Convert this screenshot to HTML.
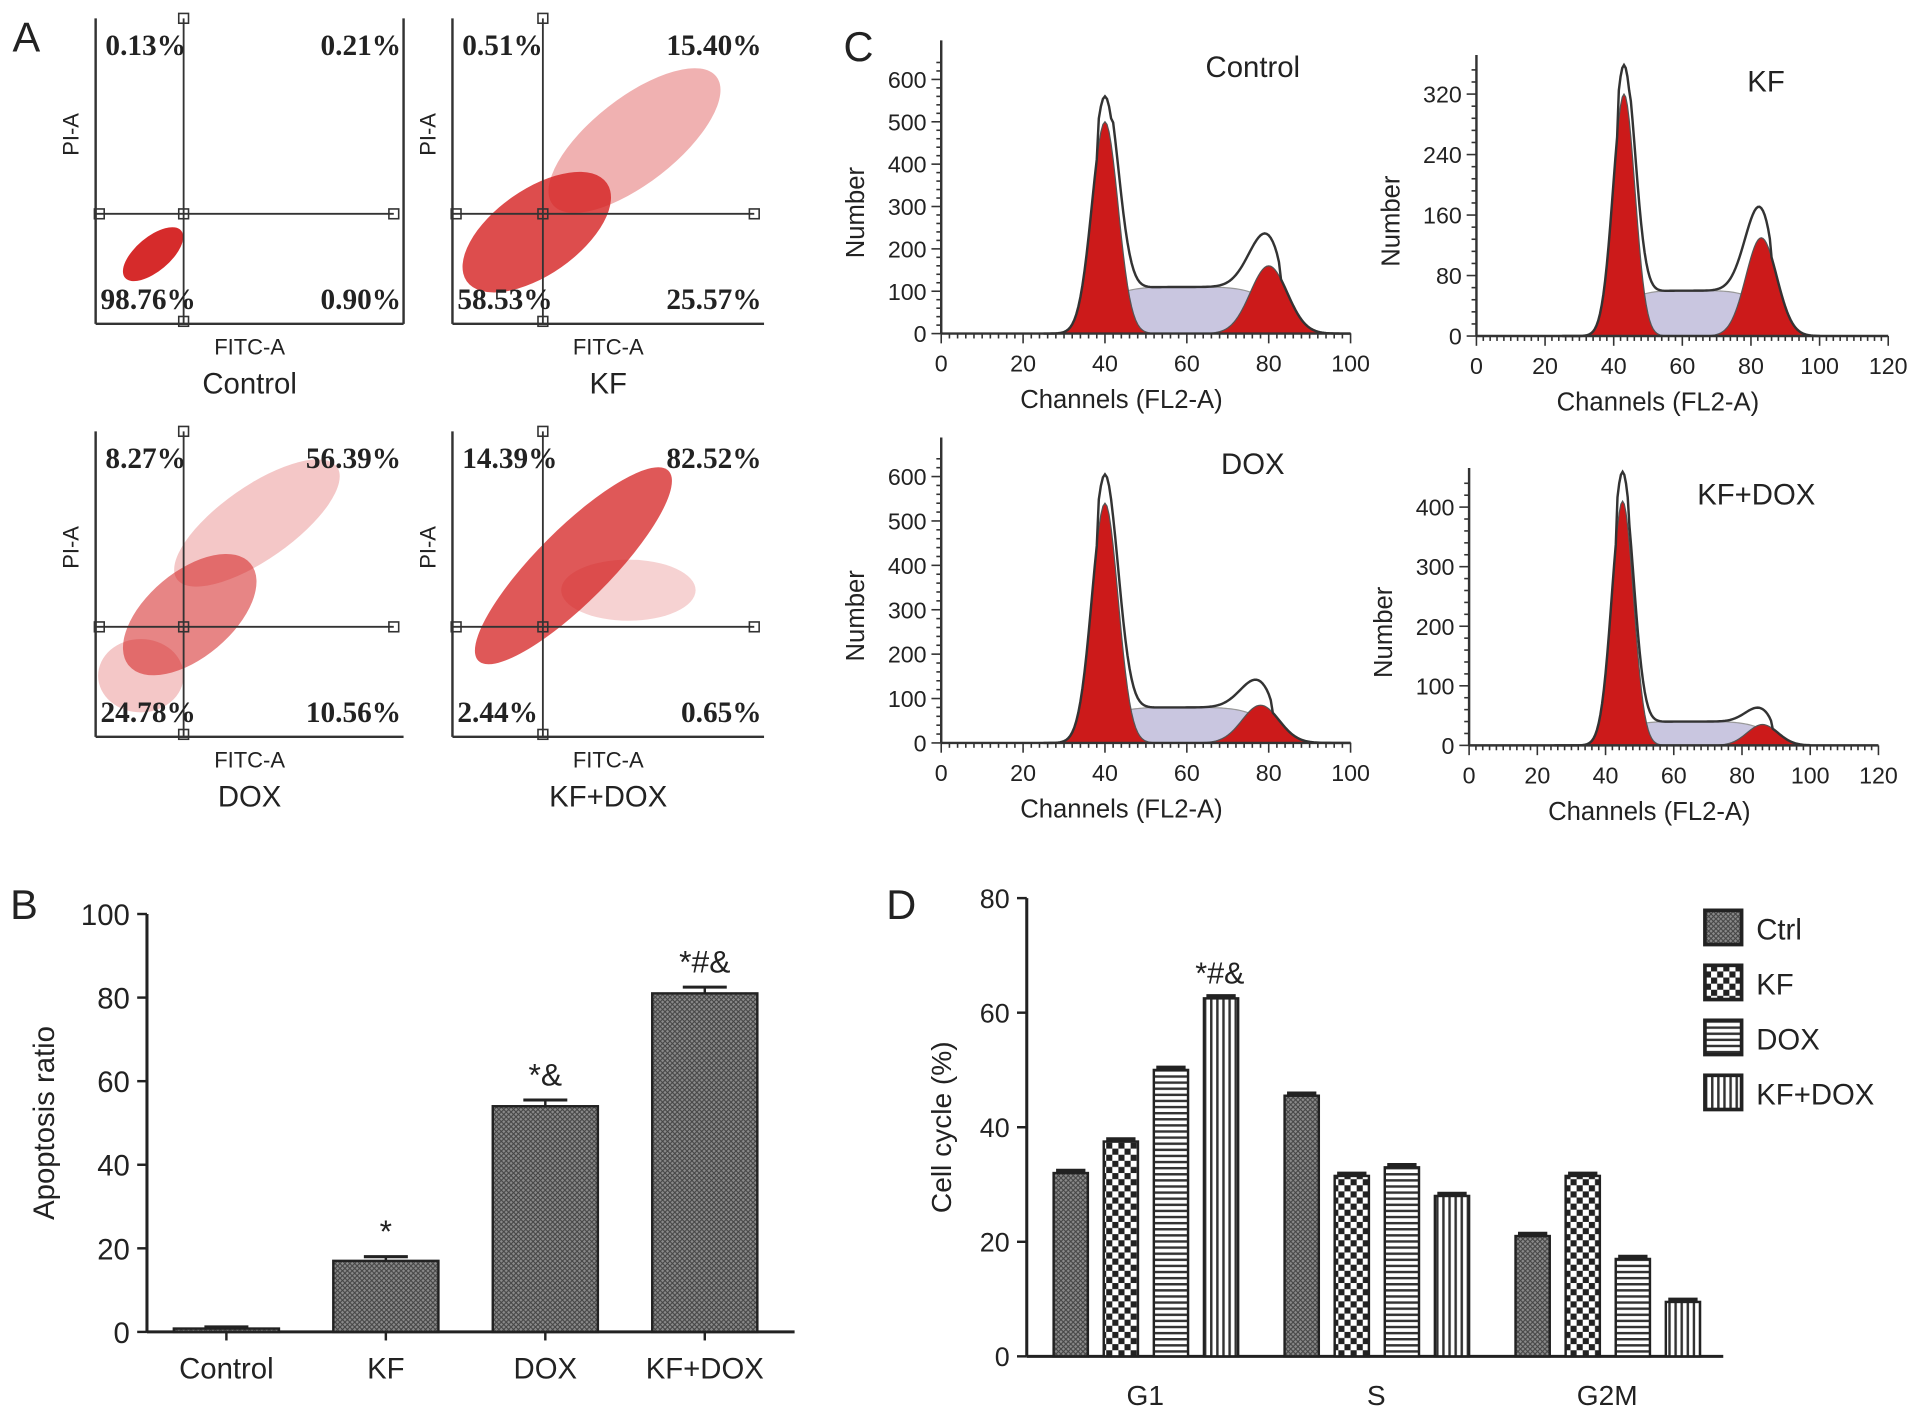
<!DOCTYPE html>
<html><head><meta charset="utf-8"><style>
html,body{margin:0;padding:0;background:#fff}
svg{display:block}
text{font-family:"Liberation Sans",sans-serif;fill:#222}
.pct{font-family:"Liberation Serif",serif;font-weight:bold;font-size:24px}
.tk{font-size:19px}
</style></head><body>
<svg id="fig" width="1913" height="1415" viewBox="0 0 1565 1158" xmlns="http://www.w3.org/2000/svg">
<defs>
<pattern id="pCtrl" width="4" height="4" patternUnits="userSpaceOnUse"><rect width="4" height="4" fill="#8a8a8a"/><path d="M0 0L4 4M4 0L0 4" stroke="#444" stroke-width="0.9"/></pattern>
<pattern id="pKF" width="10" height="10" patternUnits="userSpaceOnUse"><rect width="10" height="10" fill="#fff"/><rect width="5" height="5" fill="#222"/><rect x="5" y="5" width="5" height="5" fill="#222"/></pattern>
<pattern id="pDOX" width="6" height="5" patternUnits="userSpaceOnUse"><rect width="6" height="5" fill="#fff"/><rect y="0" width="6" height="2" fill="#333"/></pattern>
<pattern id="pKD" width="5" height="6" patternUnits="userSpaceOnUse"><rect width="5" height="6" fill="#fff"/><rect x="0" width="2" height="6" fill="#333"/></pattern>
</defs>
<g id="panelA"></g>
<g id="panelC"></g>
<g id="panelB"></g>
<g id="panelD"></g>
</svg>
<script>
const NS="http://www.w3.org/2000/svg";
// ---- data ----
const aNames=["Control","KF","DOX","KF+DOX"];
const aUL=["0.13%","0.51%","8.27%","14.39%"];
const aUR=["0.21%","15.40%","56.39%","82.52%"];
const aLL=["98.76%","58.53%","24.78%","2.44%"];
const aLR=["0.90%","25.57%","10.56%","0.65%"];
const cNames=["Control","KF","DOX","KF+DOX"];
const cYticks=[[0,100,200,300,400,500,600],[0,80,160,240,320],[0,100,200,300,400,500,600],[0,100,200,300,400]];
const cG1pos=[40,43,40,45];
const cG1h=[500,320,540,410];
const cG2pos=[80,83,78,86];
const cG2h=[160,130,85,35];
const cSlevel=[110,60,80,40];
const bCats=["Control","KF","DOX","KF+DOX"];
const bVals=[0.8,17,54,81];
const bErr=[0.4,1,1.5,1.5];
const bMarks=["","*","*&","*#&"];
const bTicks=[0,20,40,60,80,100];
const dCats=["G1","S","G2M"];
const dSeries=["Ctrl","KF","DOX","KF+DOX"];
const dCtrl=[32,45.5,21];
const dKF=[37.5,31.5,31.5];
const dDOX=[50,33,17];
const dKD=[62.5,28,9.5];
const dTicks=[0,20,40,60,80];

function el(tag,attrs,parent,txt){const e=document.createElementNS(NS,tag);for(const k in attrs)e.setAttribute(k,attrs[k]);if(txt!==undefined)e.textContent=txt;parent.appendChild(e);return e;}
function T(parent,x,y,s,size,anchor,cls,name){const t=el('text',{x:x,y:y,'font-size':size,'text-anchor':anchor||'start'},parent,s);if(cls)t.setAttribute('class',cls);

return t;}

// ---- Panel A ----
const A=document.getElementById('panelA');
T(A,10,42,"A",34,'start',null,'panel-a-letter');
const aBox=[[78,15,330,265,150,175],[370,15,625,265,444,175],[78,353,330,603,150,513],[370,353,625,603,444,513]];
aBox.forEach((b,i)=>{
 const g=el('g',{},A);
 
 
 const [x0,y0,x1,y1,qx,qy]=b;
 const cl=el('g',{fill:'#d42020'},g);
 if(i===0){el('ellipse',{cx:qx-25,cy:qy+33,rx:30,ry:14,transform:`rotate(-40 ${qx-25} ${qy+33})`,opacity:0.95},cl);}
 if(i===1){el('ellipse',{cx:qx-5,cy:qy+15,rx:70,ry:35,transform:`rotate(-35 ${qx-5} ${qy+15})`,opacity:0.8},cl);
  el('ellipse',{cx:qx+75,cy:qy-60,rx:85,ry:35,transform:`rotate(-38 ${qx+75} ${qy-60})`,opacity:0.35},cl);}
 if(i===2){el('ellipse',{cx:qx+5,cy:qy-10,rx:65,ry:35,transform:`rotate(-40 ${qx+5} ${qy-10})`,opacity:0.55},cl);
  el('ellipse',{cx:qx+60,cy:qy-85,rx:80,ry:30,transform:`rotate(-35 ${qx+60} ${qy-85})`,opacity:0.25},cl);
  el('ellipse',{cx:qx-35,cy:qy+40,rx:35,ry:30,opacity:0.25},cl);}
 if(i===3){el('ellipse',{cx:qx+25,cy:qy-50,rx:110,ry:30,transform:`rotate(-45 ${qx+25} ${qy-50})`,opacity:0.75},cl);
  el('ellipse',{cx:qx+70,cy:qy-30,rx:55,ry:25,opacity:0.2},cl);}
 el('line',{x1:x0,y1:y0,x2:x0,y2:y1,stroke:'#333','stroke-width':2},g);
 el('line',{x1:x0,y1:y1,x2:x1,y2:y1,stroke:'#333','stroke-width':2},g);
 if(i===0)el('line',{x1:x1,y1:y0,x2:x1,y2:y1,stroke:'#333','stroke-width':2},g);
 el('line',{x1:qx,y1:y0,x2:qx,y2:y1,stroke:'#333','stroke-width':1.5},g);
 el('line',{x1:x0,y1:qy,x2:x1-8,y2:qy,stroke:'#333','stroke-width':1.5},g);
 [[qx,y0],[qx,y1-2],[x0+3,qy],[x1-8,qy],[qx,qy]].forEach(p=>el('rect',{x:p[0]-4,y:p[1]-4,width:8,height:8,fill:'none',stroke:'#333','stroke-width':1.3},g));
 T(g,x0+8,y0+30,aUL[i],24,'start','pct','pct-upper-left');
 T(g,x1-2,y0+30,aUR[i],24,'end','pct','pct-upper-right');
 T(g,x0+4,y1-12,aLL[i],24,'start','pct','pct-lower-left');
 T(g,x1-2,y1-12,aLR[i],24,'end','pct','pct-lower-right');
 const yl=T(g,0,0,"PI-A",18,'middle',null,'y-axis-title');yl.setAttribute('transform',`translate(${x0-14},${(y0+y1)/2-30}) rotate(-90)`);
 T(g,(x0+x1)/2,y1+25,"FITC-A",18,'middle',null,'x-axis-title');
 T(g,(x0+x1)/2,y1+57,aNames[i],24,'middle',null,'plot-title');
});

// ---- Panel C ----
const C=document.getElementById('panelC');
T(C,690,50,"C",34,'start',null,'panel-c-letter');
const cGeo=[[770,1105,273,65],[1208,1545,275,77],[770,1105,608,390],[1202,1537,610,415]];
cGeo.forEach((gg,i)=>{
 const g=el('g',{},C);
 
 
 const [x0,x1,yb,yt]=gg;const ytop=cYticks[i][cYticks[i].length-1];
 const X=v=>x0+(x1-x0)*v/(i%2?120:100);
 const Y=v=>yb-(yb-yt)*v/ytop;
 const gs=(v,p,h,w)=>h*Math.exp(-((v-p)*(v-p))/(2*w*w));
 const sCurve=v=>{ if(v<cG1pos[i]+2||v>cG2pos[i]+4)return 0; const m=(cG1pos[i]+cG2pos[i])/2,hw=(cG2pos[i]-cG1pos[i])/2+3;const t=(v-m)/hw;return cSlevel[i]*Math.sqrt(Math.max(0,1-t*t*t*t));};
 let pS='',pG1='',pG2='',pT='';
 for(let v=25;v<=100;v+=0.5){
  const a=gs(v,cG1pos[i],cG1h[i],3.2),b=gs(v,cG2pos[i],cG2h[i],4.5),s=sCurve(v);
  pS+=(v==25?'M':'L')+X(v)+' '+Y(s);pG1+=(v==25?'M':'L')+X(v)+' '+Y(a);pG2+=(v==25?'M':'L')+X(v)+' '+Y(b);
  const tot=a+b+s+(Math.abs(v-cG1pos[i])<2?cG1h[i]*0.12:0);
  pT+=(v==25?'M':'L')+X(v)+' '+Y(tot);
 }
 el('path',{d:pS+`L${X(100)} ${yb}L${X(25)} ${yb}Z`,fill:'#c9c6e0',stroke:'#999','stroke-width':1},g);
 el('path',{d:pG1+`L${X(100)} ${yb}L${X(25)} ${yb}Z`,fill:'#cc1a1a',stroke:'#555','stroke-width':1},g);
 el('path',{d:pG2+`L${X(100)} ${yb}L${X(25)} ${yb}Z`,fill:'#cc1a1a',stroke:'#555','stroke-width':1},g);
 el('path',{d:pT,fill:'none',stroke:'#333','stroke-width':2},g);
 el('line',{x1:x0,y1:yb,x2:x1,y2:yb,stroke:'#333','stroke-width':2},g);
 el('line',{x1:x0,y1:yb,x2:x0,y2:yt-32,stroke:'#333','stroke-width':2},g);
 const xm=i%2?120:100;
 for(let v=0;v<=xm;v+=2){el('line',{x1:X(v),y1:yb,x2:X(v),y2:yb+(v%20==0?8:4),stroke:'#333','stroke-width':1.3},g);
  if(v%20==0)T(g,X(v),yb+31,String(v),19,'middle','tk','x-tick');}
 const step=(cYticks[i][1]-cYticks[i][0]);
 for(let v=0;v<=ytop+step/2;v+=step/5){el('line',{x1:x0-(Math.round(v/step*5)%5==0?8:4),y1:Y(v),x2:x0,y2:Y(v),stroke:'#333','stroke-width':1.3},g);}
 cYticks[i].forEach(v=>T(g,x0-12,Y(v)+7,String(v),19,'end','tk','y-tick'));
 const yl=T(g,0,0,"Number",21,'middle',null,'y-axis-title');yl.setAttribute('transform',`translate(${x0-63},${(yb+yt)/2+5}) rotate(-90)`);
 T(g,(x0+x1)/2-20,yb+61,"Channels (FL2-A)",21,'middle',null,'x-axis-title');
 T(g,i%2?x1-100:x1-80,yt-2,cNames[i],24,'middle',null,'plot-title');
});

// ---- Panel B ----
const B=document.getElementById('panelB');
T(B,8,752,"B",34,'start',null,'panel-b-letter');
const bx0=120,bx1=650,by0=1090,by1=748;
const bY=v=>by0-(by0-by1)*v/100;
const bX=i=>185+i*130.5;
el('line',{x1:bx0,y1:by0,x2:bx1,y2:by0,stroke:'#222','stroke-width':2.5},B);
el('line',{x1:bx0,y1:by0,x2:bx0,y2:by1,stroke:'#222','stroke-width':2.5},B);
bTicks.forEach(v=>{el('line',{x1:bx0-8,y1:bY(v),x2:bx0,y2:bY(v),stroke:'#222','stroke-width':2},B);T(B,bx0-14,bY(v)+9,String(v),24,'end',null,'y-tick');});
const byl=T(B,0,0,"Apoptosis ratio",24,'middle',null,'y-axis-title');byl.setAttribute('transform',`translate(44,${(by0+by1)/2}) rotate(-90)`);
bVals.forEach((v,i)=>{
 const cx=bX(i),w=86;
 const r=el('rect',{x:cx-w/2,y:bY(v),width:w,height:by0-bY(v),fill:'url(#pCtrl)',stroke:'#222','stroke-width':2},B);
 
 
 const ye=bY(v+bErr[i]);
 el('line',{x1:cx,y1:bY(v),x2:cx,y2:ye,stroke:'#222','stroke-width':2},B);
 el('line',{x1:cx-18,y1:ye,x2:cx+18,y2:ye,stroke:'#222','stroke-width':2.5},B);
 if(bMarks[i])T(B,cx,ye-12,bMarks[i],26,'middle',null,'significance-mark');
 el('line',{x1:cx,y1:by0,x2:cx,y2:by0+7,stroke:'#222','stroke-width':2},B);
 T(B,cx,by0+38,bCats[i],24,'middle',null,'x-tick');
});

// ---- Panel D ----
const D=document.getElementById('panelD');
T(D,725,752,"D",34,'start',null,'panel-d-letter');
const dx0=840,dx1=1410,dy0=1110,dy1=735;
const dY=v=>dy0-(dy0-dy1)*v/80;
const dGroupX=i=>937+i*189;
el('line',{x1:dx0,y1:dy0,x2:dx1,y2:dy0,stroke:'#222','stroke-width':2.5},D);
el('line',{x1:dx0,y1:dy0,x2:dx0,y2:dy1,stroke:'#222','stroke-width':2.5},D);
dTicks.forEach(v=>{el('line',{x1:dx0-8,y1:dY(v),x2:dx0,y2:dY(v),stroke:'#222','stroke-width':2},D);T(D,dx0-14,dY(v)+8,String(v),22,'end',null,'y-tick');});
const dyl=T(D,0,0,"Cell cycle (%)",23,'middle',null,'y-axis-title');dyl.setAttribute('transform',`translate(778,${(dy0+dy1)/2}) rotate(-90)`);
const dAll=[dCtrl,dKF,dDOX,dKD];const fills=['url(#pCtrl)','url(#pKF)','url(#pDOX)','url(#pKD)'];
dCats.forEach((c,gi)=>{
 const gx=dGroupX(gi);
 dAll.forEach((arr,si)=>{
  const cx=gx-61+si*41,w=28,v=arr[gi];
  const r=el('rect',{x:cx-w/2,y:dY(v),width:w,height:dy0-dY(v),fill:fills[si],stroke:'#222','stroke-width':2},D);
  
  
  el('line',{x1:cx-12,y1:dY(v)-2,x2:cx+12,y2:dY(v)-2,stroke:'#222','stroke-width':3},D);
 });
 T(D,gx,dy0+40,c,23,'middle',null,'x-tick');
});
T(D,dGroupX(0)+61,dY(dKD[0])-12,"*#&",25,'middle',null,'significance-mark');
dSeries.forEach((s,i)=>{
 const y=745+i*45;
 const r=el('rect',{x:1395,y:y,width:30,height:28,fill:fills[i],stroke:'#222','stroke-width':3},D);
 
 
 T(D,1437,y+24,s,24,'start',null,'legend-entry');
});
</script>
</body></html>
